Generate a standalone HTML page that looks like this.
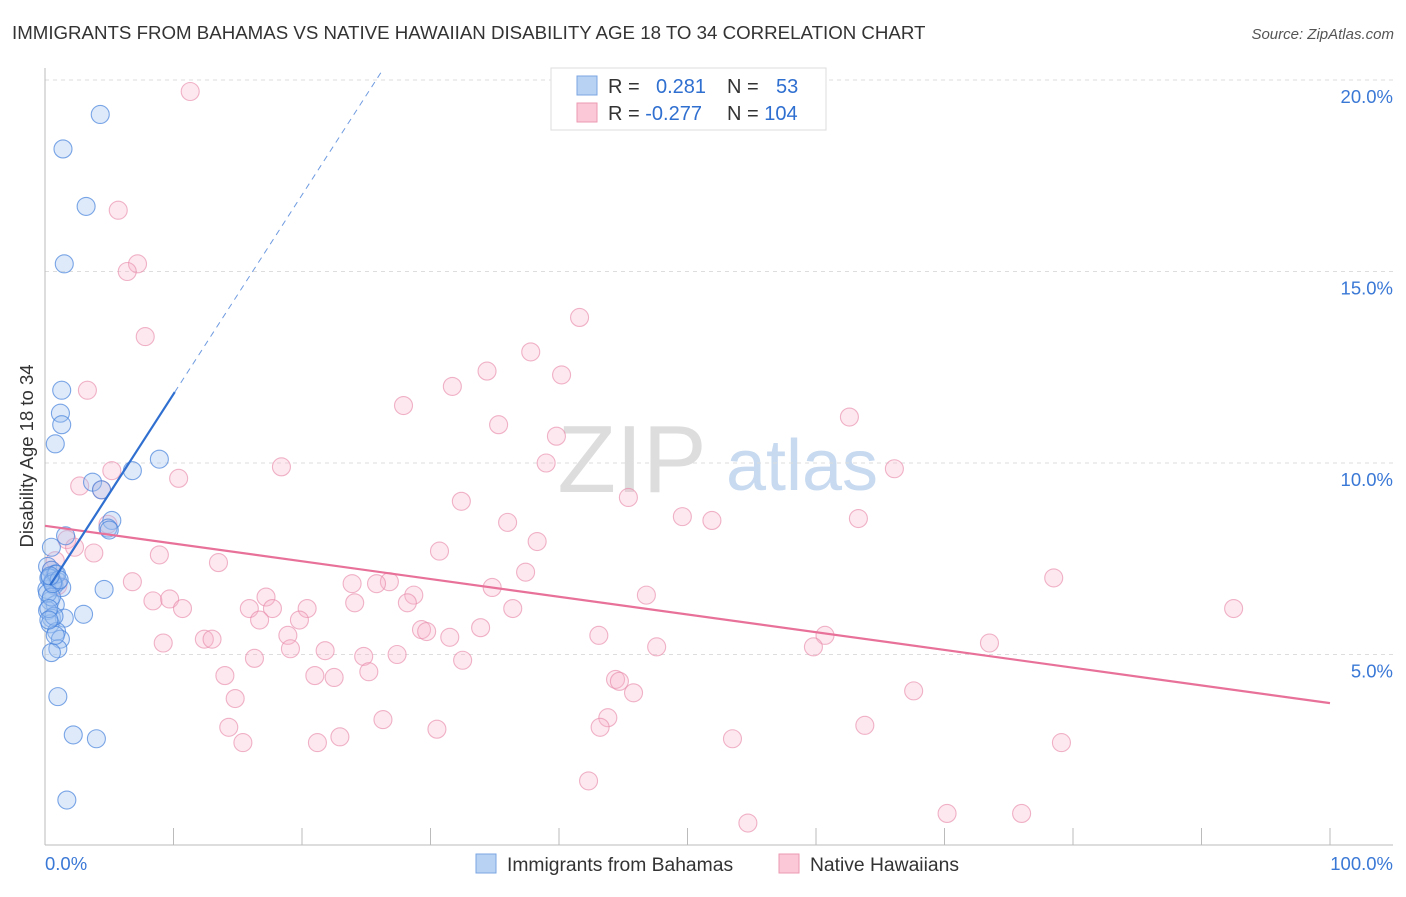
<!DOCTYPE html>
<html><head><meta charset="utf-8"><style>
body{margin:0;background:#fff;font-family:"Liberation Sans",sans-serif}
svg text{font-family:"Liberation Sans",sans-serif}
</style></head><body>
<svg id="c" width="1406" height="892" xmlns="http://www.w3.org/2000/svg">
<text x="12" y="39" font-size="18.7" fill="#333">IMMIGRANTS FROM BAHAMAS VS NATIVE HAWAIIAN DISABILITY AGE 18 TO 34 CORRELATION CHART</text>
<text x="1394" y="39" font-size="15" fill="#555" font-style="italic" text-anchor="end">Source: ZipAtlas.com</text>
<text x="632" y="492" font-size="96" fill="#ddd" font-family="Liberation Serif" text-anchor="middle">ZIP</text>
<text x="802" y="490" font-size="72" fill="#c8daf0" text-anchor="middle">atlas</text>
<g id="grid"></g><g id="axes"></g><g id="pts"></g><g id="lines"></g>
<text transform="translate(33,456) rotate(-90)" font-size="18.5" fill="#333" text-anchor="middle">Disability Age 18 to 34</text>
<g>
<rect x="551" y="68" width="275" height="62" fill="#fff" stroke="#ddd"/>
<rect x="577" y="76" width="20" height="19" fill="#b8d2f4" stroke="#7aa6e0"/>
<rect x="577" y="103" width="20" height="19" fill="#fac8d6" stroke="#eb9ab2"/>
<text x="608" y="93" font-size="20" fill="#333">R = <tspan fill="#2f6fd0" x="656">0.281</tspan></text>
<text x="727" y="93" font-size="20" fill="#333">N = <tspan fill="#2f6fd0" x="776">53</tspan></text>
<text x="608" y="120" font-size="20" fill="#333">R = <tspan fill="#2f6fd0">-0.277</tspan></text>
<text x="727" y="120" font-size="20" fill="#333">N = <tspan fill="#2f6fd0">104</tspan></text>
</g>
<g>
<rect x="476" y="854" width="20" height="19" fill="#b8d2f4" stroke="#7aa6e0"/>
<text x="507" y="871" font-size="19.3" fill="#333">Immigrants from Bahamas</text>
<rect x="779" y="854" width="20" height="19" fill="#fac8d6" stroke="#eb9ab2"/>
<text x="810" y="871" font-size="19.3" fill="#333">Native Hawaiians</text>
</g>
</svg>
<script>
const blueX=[4.3,1.4,3.2,1.5,1.3,1.2,1.3,0.8,8.9,6.8,3.7,4.4,5.2,4.9,5.0,1.6,0.5,0.2,0.5,0.8,0.4,1.0,0.7,1.3,0.15,4.6,0.4,0.8,0.2,3.0,0.5,1.5,0.4,0.9,1.2,1.0,0.5,1.0,2.2,4.0,1.7,0.3,0.6,0.9,0.2,0.5,0.7,0.3,0.6,1.1,0.4,0.8,0.3];
const blueY=[19.1,18.2,16.7,15.2,11.9,11.3,11.0,10.5,10.1,9.8,9.5,9.3,8.5,8.3,8.25,8.1,7.8,7.3,7.2,7.1,7.0,6.9,6.8,6.75,6.7,6.7,6.4,6.3,6.15,6.05,5.95,5.95,5.8,5.6,5.4,5.15,5.05,3.9,2.9,2.8,1.2,7.0,6.9,7.1,6.6,6.5,6.0,6.2,6.85,6.95,7.05,5.5,5.9];
const pinkX=[11.3,5.7,7.2,6.4,7.8,3.3,41.6,37.8,34.4,40.2,31.7,27.9,62.6,35.3,39.8,39.0,18.4,66.1,10.4,5.2,2.7,4.4,45.4,32.4,49.6,51.9,63.3,36.0,4.9,38.3,1.7,2.3,3.8,8.9,30.7,13.5,0.8,37.4,78.5,6.8,23.9,26.8,25.8,34.8,46.8,17.2,28.7,8.4,9.7,24.1,28.2,10.7,15.9,17.7,20.4,36.4,92.5,16.7,19.8,29.3,29.7,33.9,31.5,18.9,43.1,60.7,12.4,13.0,9.2,73.5,47.6,59.8,19.1,21.8,27.4,16.3,24.8,32.5,25.2,14.0,21.0,22.5,44.4,44.7,45.8,67.6,14.8,26.3,43.8,63.8,14.3,43.2,30.5,22.95,21.2,15.4,53.5,79.1,42.3,54.7,70.2,76.0,0.5,1.0];
const pinkY=[19.7,16.6,15.2,15.0,13.3,11.9,13.8,12.9,12.4,12.3,12.0,11.5,11.2,11.0,10.7,10.0,9.9,9.85,9.6,9.8,9.4,9.3,9.1,9.0,8.6,8.5,8.55,8.45,8.4,7.95,8.0,7.8,7.65,7.6,7.7,7.4,7.45,7.15,7.0,6.9,6.85,6.9,6.85,6.75,6.55,6.5,6.55,6.4,6.45,6.35,6.35,6.2,6.2,6.2,6.2,6.2,6.2,5.9,5.9,5.65,5.6,5.7,5.45,5.5,5.5,5.5,5.4,5.4,5.3,5.3,5.2,5.2,5.15,5.1,5.0,4.9,4.95,4.85,4.55,4.45,4.45,4.4,4.35,4.3,4.0,4.05,3.85,3.3,3.35,3.15,3.1,3.1,3.05,2.85,2.7,2.7,2.8,2.7,1.7,0.6,0.85,0.85,7.2,6.8];
const yTicks=[5,10,15,20];
const yTickLabels=["5.0%","10.0%","15.0%","20.0%"];
const xTicks=[0,10,20,30,40,50,60,70,80,90,100];
const blueTrend=[6.6,0.52];
const pinkTrend=[8.36,-0.0463];
const X=v=>45+v*12.85, Y=v=>846-v*38.3;
const NS="http://www.w3.org/2000/svg";
function mk(p,t,a){const e=document.createElementNS(NS,t);for(const k in a)e.setAttribute(k,a[k]);document.getElementById(p).appendChild(e);return e;}
yTicks.forEach((t,i)=>{
 const l=mk('grid','line',{x1:45,x2:1393,y1:Y(t),y2:Y(t),stroke:'#ddd','stroke-dasharray':'4,4'});
 
 
 const tx=mk('grid','text',{x:1393,y:Y(t)+23,'font-size':18.5,fill:'#3a78d6','text-anchor':'end'});
 tx.textContent=yTickLabels[i];
 
 
});
const ya=mk('axes','line',{x1:45,x2:45,y1:68,y2:845,stroke:'#bbb'});


const xa=mk('axes','line',{x1:45,x2:1393,y1:845,y2:845,stroke:'#bbb'});


xTicks.forEach(t=>{
 const l=mk('axes','line',{x1:X(t),x2:X(t),y1:828,y2:845,stroke:'#bbb'});
 
 
});
const x0=mk('axes','text',{x:45,y:870,'font-size':18.5,fill:'#3a78d6'});x0.textContent='0.0%';


const x1=mk('axes','text',{x:1393,y:870,'font-size':18.5,fill:'#3a78d6','text-anchor':'end'});x1.textContent='100.0%';


pinkX.forEach((x,i)=>{
 const c=mk('pts','circle',{cx:X(x),cy:Y(pinkY[i]),r:9,fill:'rgba(248,180,202,0.3)',stroke:'rgba(232,140,170,0.65)','stroke-width':1.1});
 
 
});
blueX.forEach((x,i)=>{
 const c=mk('pts','circle',{cx:X(x),cy:Y(blueY[i]),r:9,fill:'rgba(160,195,240,0.35)',stroke:'rgba(70,130,220,0.7)','stroke-width':1.1});
 
 
});
const pl=mk('lines','line',{x1:X(0),y1:Y(pinkTrend[0]),x2:X(100),y2:Y(pinkTrend[0]+pinkTrend[1]*100),stroke:'#e8719a','stroke-width':2.2});


const bEnd=10.1, bTop=(20.2-blueTrend[0])/blueTrend[1];
const bl=mk('lines','line',{x1:X(0.4),y1:Y(blueTrend[0]+blueTrend[1]*0.4),x2:X(bEnd),y2:Y(blueTrend[0]+blueTrend[1]*bEnd),stroke:'#2f6fd0','stroke-width':2.2});


const bd=mk('lines','line',{x1:X(bEnd),y1:Y(blueTrend[0]+blueTrend[1]*bEnd),x2:X(bTop),y2:Y(20.2),stroke:'#6f9be0','stroke-width':1,'stroke-dasharray':'6,5'});


</script>
</body></html>
